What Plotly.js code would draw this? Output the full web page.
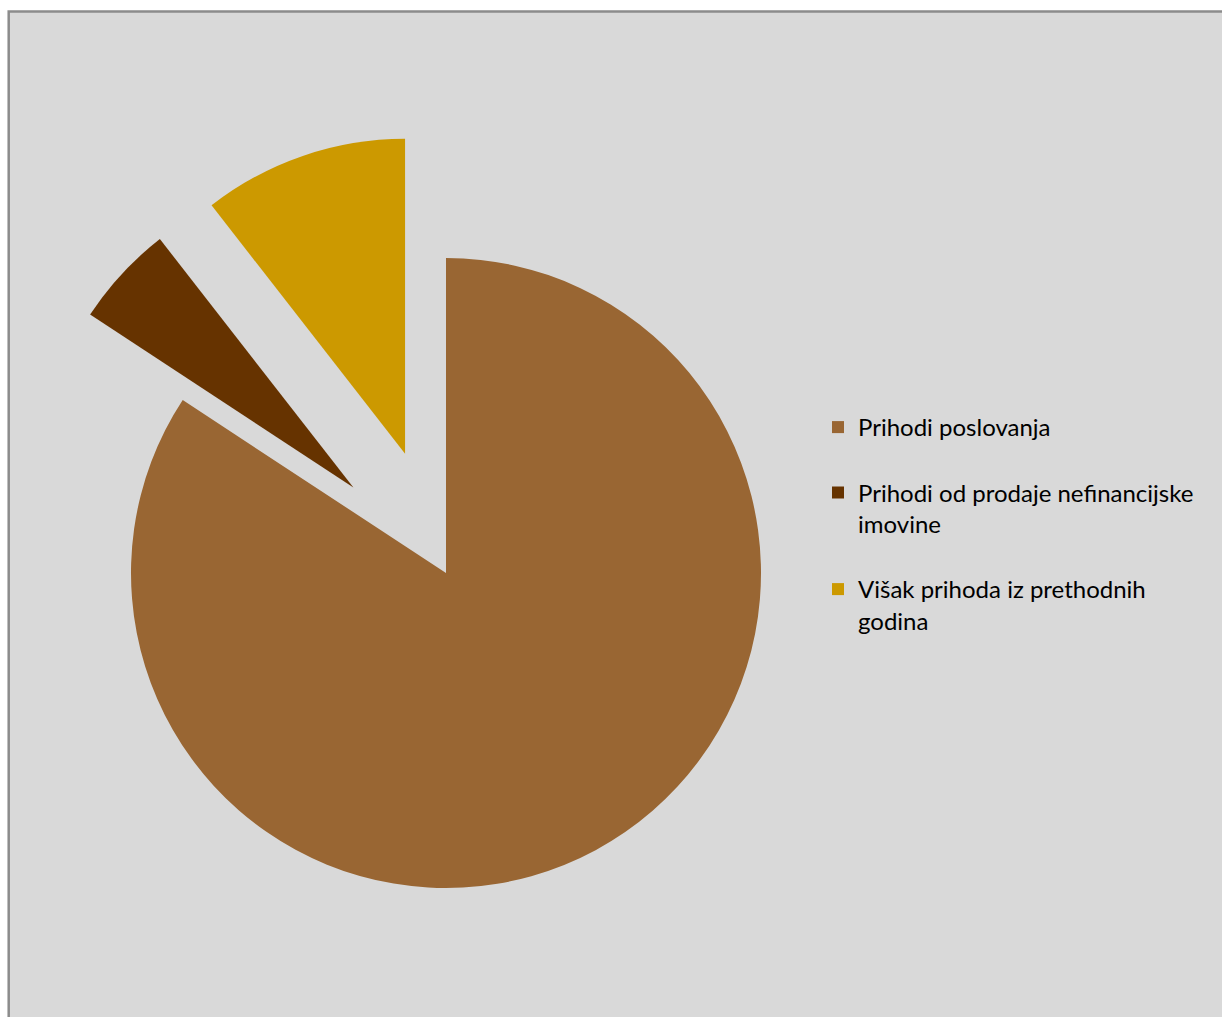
<!DOCTYPE html>
<html>
<head>
<meta charset="utf-8">
<script src="https://cdn.plot.ly/plotly-3.0.1.min.js"></script>
<style>
  html, body { margin: 0; padding: 0; background: #ffffff; }
  #chart { width: 1222px; height: 1017px; }
</style>
</head>
<body>
<div id="chart"></div>
<script>
// Data (shares in %)
const categories = [
  "Prihodi poslovanja",
  "Prihodi od prodaje nefinancijske imovine",
  "Višak prihoda iz prethodnih godina"
];
const legendLabels = [
  "Prihodi poslovanja<br> ",
  "Prihodi od prodaje nefinancijske<br>imovine<br> ",
  "Višak prihoda iz prethodnih<br>godina"
];
const shares = [84.25, 5.22, 10.53];
const sliceColors = ["#996633", "#663300", "#CC9900"];
const pulls = [0, 0.4, 0.4];

const W = 1222, H = 1017;

const trace = {
  type: "pie",
  labels: legendLabels,
  values: shares,
  customdata: categories,
  hovertemplate: "%{customdata}: %{value}<extra></extra>",
  sort: false,
  direction: "clockwise",
  rotation: 0,
  pull: pulls,
  textinfo: "none",
  marker: { colors: sliceColors, line: { width: 0 } },
  domain: { x: [5 / W, 887 / W], y: [3 / H, 885 / H] }
};

const layout = {
  width: W,
  height: H,
  margin: { l: 0, r: 0, t: 0, b: 0 },
  paper_bgcolor: "#ffffff",
  showlegend: true,
  legend: {
    x: 818 / W,
    xanchor: "left",
    y: 1 - 405 / H,
    yanchor: "top",
    valign: "top",
    bgcolor: "rgba(0,0,0,0)",
    font: { family: "Lato, 'Open Sans', sans-serif", size: 24, color: "#000000" }
  },
  shapes: [{
    type: "rect",
    xref: "paper", yref: "paper",
    x0: 8.7 / W, x1: 1.02,
    y0: -0.02, y1: 1 - 11.5 / H,
    line: { color: "#8c8c8c", width: 2.5 },
    fillcolor: "#d9d9d9",
    layer: "below"
  }]
};

Plotly.newPlot("chart", [trace], layout, { displayModeBar: false, staticPlot: true });
</script>
</body>
</html>
